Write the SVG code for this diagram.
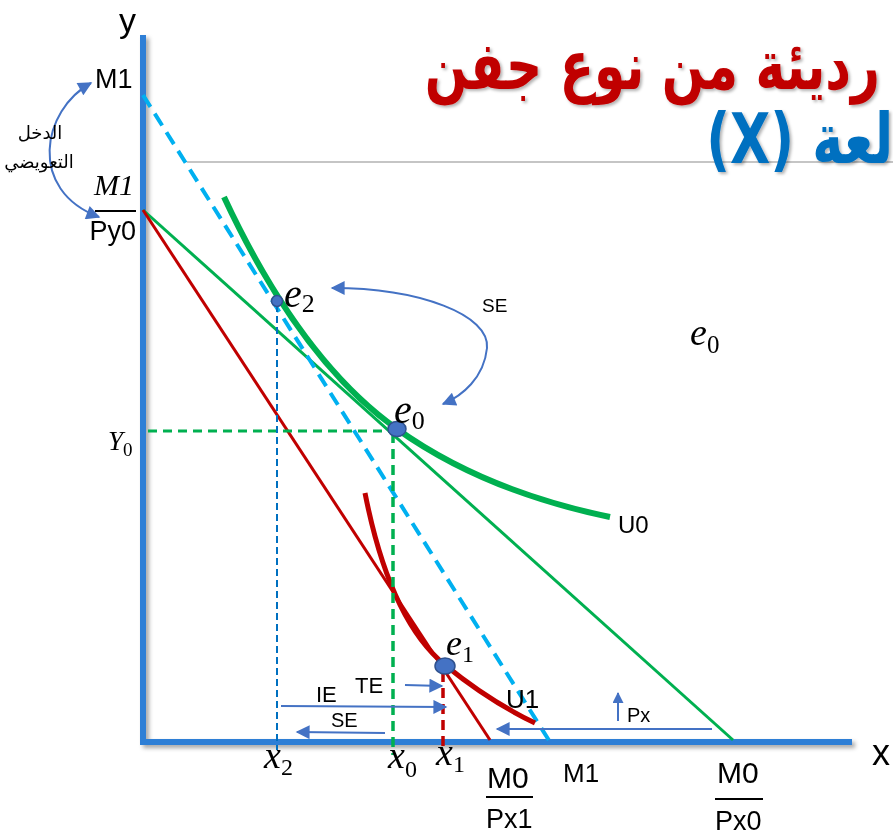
<svg xmlns="http://www.w3.org/2000/svg" width="893" height="835" viewBox="0 0 893 835">
<defs>
<style>
.lbl{font-family:"Liberation Sans",Arial,sans-serif;fill:#000}
.it{font-family:"Liberation Serif","Times New Roman",serif;font-style:italic;fill:#000}
.sub{font-family:"Liberation Serif","Times New Roman",serif;font-style:normal}
.ar{font-family:"DejaVu Sans",sans-serif;fill:#000}
.arr{fill:none;stroke:#4472C4;stroke-width:2}
.dot{fill:#4472C4;stroke:#2F528F;stroke-width:1.5}
</style>
<marker id="ah" viewBox="0 0 10 10" refX="9" refY="5" markerWidth="12" markerHeight="11" markerUnits="userSpaceOnUse" orient="auto-start-reverse">
<path d="M0,0 L10,5 L0,10 Z" fill="#4472C4"/>
</marker>
<marker id="ah2" viewBox="0 0 10 10" refX="9" refY="5" markerWidth="16" markerHeight="14" markerUnits="userSpaceOnUse" orient="auto-start-reverse">
<path d="M0,0 L10,5 L0,10 Z" fill="#4472C4"/>
</marker>
<filter id="sh" x="-10%" y="-10%" width="130%" height="130%">
<feDropShadow dx="3" dy="3" stdDeviation="2" flood-color="#000" flood-opacity="0.35"/>
</filter>
<filter id="tsh" x="-10%" y="-10%" width="130%" height="130%">
<feDropShadow dx="2" dy="2" stdDeviation="1.5" flood-color="#000" flood-opacity="0.3"/>
</filter>
</defs>
<rect width="893" height="835" fill="#fff"/>

<line x1="187" y1="162" x2="893" y2="162" stroke="#8c8c8c" stroke-width="1.2"/>

<g id="title" filter="url(#tsh)">
<text transform="translate(880,89) scale(0.93,1.25)" x="0" y="0" direction="rtl" text-anchor="start" font-family="DejaVu Sans,sans-serif" font-weight="bold" font-size="54" fill="#C00000">رديئة من نوع جفن</text>
<text transform="translate(893,163) scale(0.9,1.2)" x="0" y="0" direction="rtl" text-anchor="start" font-family="DejaVu Sans,sans-serif" font-weight="bold" font-size="58" fill="#0070C0">لعة (X)</text>
</g>

<g id="axes" filter="url(#sh)">
<line x1="143" y1="35" x2="143" y2="745" stroke="#2E7FD6" stroke-width="6"/>
<line x1="140" y1="742" x2="852" y2="742" stroke="#2E7FD6" stroke-width="6"/>
</g>

<g id="connectors">
<line id="budget-px0" x1="143" y1="210" x2="733" y2="740" stroke="#00B050" stroke-width="3"/>
<line id="budget-px1" x1="143" y1="210" x2="490" y2="740" stroke="#C00000" stroke-width="3"/>
<line id="compensated" x1="143" y1="95" x2="550" y2="742" stroke="#00B0F0" stroke-width="4" stroke-dasharray="14 8"/>
<path id="U0" d="M224,197 Q300,360 397,429 Q484,491 610,517" fill="none" stroke="#00B050" stroke-width="6"/>
<path id="U1" d="M365,493 Q390,620 445,665 Q489,701 535,723" fill="none" stroke="#C00000" stroke-width="5"/>
<path d="M148,431 H392" stroke="#00B050" stroke-width="3" stroke-dasharray="9 6" fill="none"/>
<path d="M393,433 V755" stroke="#00B050" stroke-width="3.5" stroke-dasharray="10 6" fill="none"/>
<path d="M277,305 V750" stroke="#0070C0" stroke-width="2" stroke-dasharray="7 4" fill="none"/>
<path d="M443,672 V748" stroke="#C00000" stroke-width="3.5" stroke-dasharray="10 6" fill="none"/>
<line class="arr" x1="405" y1="685" x2="442" y2="686" marker-end="url(#ah2)"/>
<line class="arr" x1="281" y1="706" x2="446" y2="707" marker-end="url(#ah2)"/>
<line class="arr" x1="385" y1="733" x2="297" y2="732" marker-end="url(#ah2)"/>
<line class="arr" x1="712" y1="729" x2="497" y2="729" marker-end="url(#ah2)"/>
<line class="arr" x1="618" y1="721" x2="618" y2="693" stroke-width="3" marker-end="url(#ah)"/>
<path class="arr" d="M332,288 C420,288 490,315 487,348 C484,378 462,396 443,404" marker-start="url(#ah2)" marker-end="url(#ah2)"/>
<path class="arr" d="M91,83 C42,110 27,190 99,217" marker-start="url(#ah2)" marker-end="url(#ah2)"/>
</g>

<g id="e0"><ellipse class="dot" cx="397" cy="429" rx="9" ry="7.5"/>
<text class="it" x="394" y="423" font-size="40">e<tspan class="sub" font-size="26" dy="6">0</tspan></text></g>
<g id="e2"><circle class="dot" cx="277" cy="301" r="5.5"/>
<text class="it" x="284" y="307" font-size="40">e<tspan class="sub" font-size="26" dy="5">2</tspan></text></g>
<g id="e1"><ellipse class="dot" cx="445" cy="666" rx="10" ry="8"/>
<text class="it" x="446" y="655" font-size="36">e<tspan class="sub" font-size="24" dy="7">1</tspan></text></g>
<g id="e0-right"><text class="it" x="690" y="345" font-size="38">e<tspan class="sub" font-size="25" dy="8">0</tspan></text></g>

<g id="labels">
<text class="lbl" x="119" y="32" font-size="34">y</text>
<text class="lbl" x="872" y="765" font-size="36">x</text>
<text class="lbl" x="95" y="88" font-size="27">M1</text>
<text class="ar" x="40" y="139" font-size="18" text-anchor="middle">الدخل</text>
<text class="ar" x="39" y="168" font-size="18" text-anchor="middle">التعويضي</text>
<text class="it" x="134" y="195" font-size="30" text-anchor="end">M1</text>
<line x1="95" y1="211" x2="136" y2="211" stroke="#000" stroke-width="2"/>
<text class="lbl" x="136" y="240" font-size="27" text-anchor="end">Py0</text>
<text class="it" x="108" y="450" font-size="27">Y<tspan class="sub" font-size="19" dy="6">0</tspan></text>
<text class="lbl" x="482" y="312" font-size="19">SE</text>
<text class="lbl" x="618" y="533" font-size="24">U0</text>
<text class="lbl" x="506" y="708" font-size="26">U1</text>
<text class="lbl" x="316" y="702" font-size="22">IE</text>
<text class="lbl" x="355" y="693" font-size="22">TE</text>
<text class="lbl" x="331" y="727" font-size="20">SE</text>
<text class="lbl" x="627" y="722" font-size="20">Px</text>
<text class="it" x="264" y="768" font-size="38">x<tspan class="sub" font-size="24" dy="7">2</tspan></text>
<text class="it" x="388" y="768" font-size="38">x<tspan class="sub" font-size="24" dy="9">0</tspan></text>
<text class="it" x="436" y="765" font-size="38">x<tspan class="sub" font-size="24" dy="7">1</tspan></text>
<text class="lbl" x="487" y="788" font-size="30">M0</text>
<line x1="486" y1="797" x2="533" y2="797" stroke="#000" stroke-width="2"/>
<text class="lbl" x="486" y="828" font-size="27">Px1</text>
<text class="lbl" x="563" y="782" font-size="26">M1</text>
<text class="lbl" x="717" y="783" font-size="30">M0</text>
<line x1="715" y1="799" x2="763" y2="799" stroke="#000" stroke-width="2"/>
<text class="lbl" x="715" y="830" font-size="27">Px0</text>
</g>
</svg>
